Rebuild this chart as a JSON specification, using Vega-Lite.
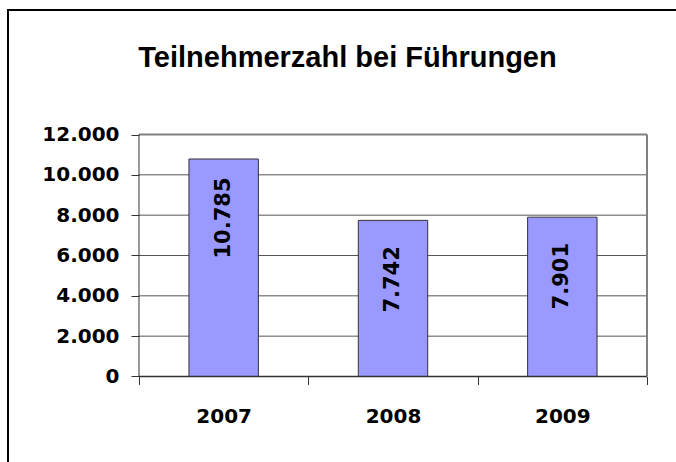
{
  "$schema": "https://vega.github.io/schema/vega-lite/v6.json",
  "autosize": {"type": "none"},
  "width": 669,
  "height": 453,
  "padding": {"left": 8, "top": 10, "right": -1, "bottom": -1},
  "background": "white",
  "title": {
    "text": "Teilnehmerzahl bei Führungen",
    "font": "Liberation Sans",
    "fontSize": 29,
    "fontWeight": "bold",
    "color": "black",
    "anchor": "middle",
    "frame": "group",
    "baseline": "alphabetic",
    "offset": -86,
    "dx": 5
  },
  "config": {
    "locale": {"number": {"decimal": ",", "thousands": ".", "grouping": [3], "currency": ["", " €"]}},
    "view": {"stroke": "black", "strokeWidth": 2},
    "axisX": {
      "offset": -86.5, "domain": false, "grid": false, "tickBand": "extent",
      "tickSize": 8, "tickColor": "#333333", "tickWidth": 1,
      "labelPadding": 22, "labelFont": "DejaVu Sans", "labelFontWeight": "bold",
      "labelFontSize": 20, "labelColor": "black", "labelAngle": 0
    },
    "axisY": {
      "offset": -131, "domain": false, "grid": false,
      "tickSize": 8, "tickColor": "#333333", "tickWidth": 1,
      "labelPadding": 12, "labelFont": "DejaVu Sans", "labelFontWeight": "bold",
      "labelFontSize": 20, "labelColor": "black",
      "labelExpr": "replace(format(datum.value, ','), ',', '.')"
    }
  },
  "layer": [
    {
      "data": {"values": [{"v": 2000}, {"v": 4000}, {"v": 6000}, {"v": 8000}, {"v": 10000}]},
      "mark": {"type": "rule", "color": "#555555", "strokeWidth": 1},
      "encoding": {
        "y": {"field": "v", "type": "quantitative", "title": null,
              "scale": {"domain": [-4289.3, 18173.6], "nice": false, "zero": false}},
        "x": {"datum": "2007", "type": "ordinal", "bandPosition": 0, "title": null,
              "scale": {"domain": ["2007", "2008", "2009"], "paddingInner": 0, "paddingOuter": 0.47539, "align": 0.81366}},
        "x2": {"datum": "2009", "bandPosition": 1}
      }
    },
    {
      "data": {"values": [{}]},
      "mark": {"type": "rule", "color": "#808080", "strokeWidth": 2},
      "encoding": {
        "y": {"datum": 12000, "type": "quantitative", "title": null,
              "scale": {"domain": [-4289.3, 18173.6], "nice": false, "zero": false}},
        "x": {"datum": "2007", "type": "ordinal", "bandPosition": 0, "title": null,
              "scale": {"domain": ["2007", "2008", "2009"], "paddingInner": 0, "paddingOuter": 0.47539, "align": 0.81366}},
        "x2": {"datum": "2009", "bandPosition": 1}
      }
    },
    {
      "data": {"values": [{}]},
      "mark": {"type": "rule", "color": "#808080", "strokeWidth": 2},
      "encoding": {
        "x": {"datum": "2009", "type": "ordinal", "bandPosition": 1, "title": null,
              "scale": {"domain": ["2007", "2008", "2009"], "paddingInner": 0, "paddingOuter": 0.47539, "align": 0.81366}},
        "y": {"datum": 0, "type": "quantitative", "title": null,
              "scale": {"domain": [-4289.3, 18173.6], "nice": false, "zero": false}},
        "y2": {"datum": 12000}
      }
    },
    {
      "data": {"values": [
        {"Jahr": "2007", "Teilnehmer": 10785},
        {"Jahr": "2008", "Teilnehmer": 7742},
        {"Jahr": "2009", "Teilnehmer": 7901}
      ]},
      "layer": [
        {
          "mark": {"type": "bar", "width": {"band": 0.41}, "fill": "#9999FF", "stroke": "#333333", "strokeWidth": 1},
          "encoding": {
            "x": {"field": "Jahr", "type": "ordinal", "title": null,
                  "scale": {"domain": ["2007", "2008", "2009"], "paddingInner": 0, "paddingOuter": 0.47539, "align": 0.81366}},
            "y": {"field": "Teilnehmer", "type": "quantitative", "title": null,
                  "scale": {"domain": [-4289.3, 18173.6], "nice": false, "zero": false},
                  "axis": {"values": [0, 2000, 4000, 6000, 8000, 10000, 12000]}},
            "y2": {"datum": 0}
          }
        },
        {
          "mark": {"type": "text", "angle": 270, "dx": -59, "align": "center", "baseline": "middle",
                   "font": "DejaVu Sans", "fontWeight": "bold", "fontSize": 21, "color": "black"},
          "encoding": {
            "x": {"field": "Jahr", "type": "ordinal", "title": null},
            "y": {"field": "Teilnehmer", "type": "quantitative", "title": null},
            "text": {"field": "Teilnehmer", "type": "quantitative", "format": ","}
          }
        }
      ]
    },
    {
      "data": {"values": [{}]},
      "mark": {"type": "rule", "color": "#333333", "strokeWidth": 1},
      "encoding": {
        "x": {"datum": "2007", "type": "ordinal", "bandPosition": 0, "title": null},
        "y": {"datum": 0, "type": "quantitative", "title": null},
        "y2": {"datum": 12000}
      }
    },
    {
      "data": {"values": [{}]},
      "mark": {"type": "rule", "color": "#333333", "strokeWidth": 1.5},
      "encoding": {
        "y": {"datum": 0, "type": "quantitative", "title": null},
        "x": {"datum": "2007", "type": "ordinal", "bandPosition": 0, "title": null},
        "x2": {"datum": "2009", "bandPosition": 1}
      }
    }
  ]
}
